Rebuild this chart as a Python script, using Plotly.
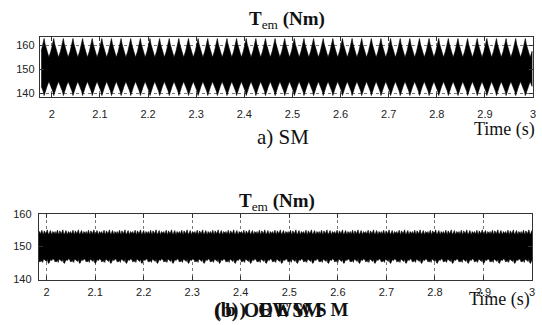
import numpy as np
import plotly.graph_objects as go

# ---------------- data ----------------
x_tickvals = [2.0, 2.1, 2.2, 2.3, 2.4, 2.5, 2.6, 2.7, 2.8, 2.9, 3.0]
x_ticktext = ["2", "2.1", "2.2", "2.3", "2.4", "2.5", "2.6", "2.7", "2.8", "2.9", "3"]
y_tickvals = [140, 150, 160]

# (a) SM: torque ripple envelope, one 50 Hz cycle (period 0.02 s)
sm_period = 0.02
sm_first_peak = 2.004
sm_cycle_phase = [0.0, 0.2, 0.4, 0.5, 0.6, 0.8, 1.0]          # fraction of period from trough to trough
sm_upper_cycle = [155.0, 157.5, 160.5, 162.8, 160.5, 157.5, 155.0]
sm_lower_cycle = [145.0, 143.0, 141.0, 139.2, 141.0, 143.0, 145.0]

# (b) OEWSM: narrow band with fuzzy edges, a short run of edge values
ow_step = 0.0016
ow_upper_run = [154.0, 154.6, 153.8, 154.3, 155.0, 154.1, 153.7, 154.8, 154.2, 153.9,
                154.5, 155.1, 154.0, 153.8, 154.4, 154.9, 154.1, 153.7, 154.6, 154.2]
ow_lower_run = [146.0, 145.4, 146.2, 145.8, 145.1, 146.0, 146.3, 145.3, 145.9, 146.1,
                145.5, 144.9, 146.0, 146.2, 145.6, 145.2, 145.9, 146.3, 145.4, 145.8]

# ---------------- build traces ----------------
top_range = [1.975, 3.0]
bot_range = [1.984, 3.0]

# tile the measured SM cycle across the visible window
t_up, v_up, v_lo = [], [], []
start = sm_first_peak - 0.5 * sm_period
k0 = int(np.floor((top_range[0] - start) / sm_period)) - 1
k1 = int(np.ceil((top_range[1] - start) / sm_period)) + 1
for k in range(k0, k1):
    for ph, u, l in zip(sm_cycle_phase, sm_upper_cycle, sm_lower_cycle):
        t = start + (k + ph) * sm_period
        t_up.append(t); v_up.append(u); v_lo.append(l)
t_up = np.array(t_up); v_up = np.array(v_up); v_lo = np.array(v_lo)
m = (t_up >= top_range[0]) & (t_up <= top_range[1])
t_up, v_up, v_lo = t_up[m], v_up[m], v_lo[m]

n_ow = int((bot_range[1] - bot_range[0]) / ow_step) + 1
t_ow = np.array([bot_range[0] + i * ow_step for i in range(n_ow)])
u_ow = np.array([ow_upper_run[i % len(ow_upper_run)] for i in range(n_ow)])
l_ow = np.array([ow_lower_run[(i * 7) % len(ow_lower_run)] for i in range(n_ow)])

fig = go.Figure()
fig.add_trace(go.Scatter(
    x=np.concatenate([t_up, t_up[::-1]]), y=np.concatenate([v_up, v_lo[::-1]]),
    fill="toself", fillcolor="#000000", line=dict(width=0.6, color="#000000"),
    mode="lines", xaxis="x", yaxis="y", hoverinfo="skip", showlegend=False))
fig.add_trace(go.Scatter(
    x=np.concatenate([t_ow, t_ow[::-1]]), y=np.concatenate([u_ow, l_ow[::-1]]),
    fill="toself", fillcolor="#000000", line=dict(width=0.6, color="#000000"),
    mode="lines", xaxis="x2", yaxis="y2", hoverinfo="skip", showlegend=False))

W, H = 542, 325
def dx(a, b): return [a / W, b / W]
def dy(top, bot): return [1 - bot / H, 1 - top / H]

tickfont = dict(family="Liberation Sans", size=11, color="#222")
axcommon = dict(showline=True, linecolor="#333", linewidth=1, mirror="ticks",
                ticks="inside", ticklen=4, tickcolor="#333", tickfont=tickfont,
                showgrid=True, gridcolor="#777", griddash="dot", gridwidth=1,
                zeroline=False)

fig.update_layout(
    width=W, height=H, autosize=False, margin=dict(l=0, r=0, t=0, b=0),
    paper_bgcolor="white", plot_bgcolor="white",
    xaxis=dict(domain=dx(40, 536), range=top_range, tickvals=x_tickvals, ticktext=x_ticktext,
               anchor="y", ticklabelstandoff=7, **axcommon),
    yaxis=dict(domain=dy(32, 94), range=[138.8, 163.5], tickvals=y_tickvals,
               anchor="x", ticklabelstandoff=2, **axcommon),
    xaxis2=dict(domain=dx(39, 535), range=bot_range, tickvals=x_tickvals, ticktext=x_ticktext,
                anchor="y2", ticklabelstandoff=2, **axcommon),
    yaxis2=dict(domain=dy(215.7, 284), range=[140, 160], tickvals=y_tickvals,
                anchor="x2", ticklabelstandoff=4, **axcommon),
)

serif = "Liberation Serif"
def ann(text, x, y, size, xanchor="center", color="#111"):
    fig.add_annotation(text=text, x=x / W, y=1 - y / H, xref="paper", yref="paper",
                       showarrow=False, xanchor=xanchor, yanchor="middle",
                       font=dict(family=serif, size=size, color=color))

title = "<b>T</b><sub>em</sub> <b>(Nm)</b>"
ann(title, 289, 15, 19)
ann(title, 279, 203, 19)
ann("Time (s)", 540, 128, 18, xanchor="right")
ann("Time (s)", 535, 305, 18, xanchor="right")
ann("a) SM", 285, 136, 21)
# the caption (b) is printed twice over itself in the reference
ann("<b>(b) OEWSM</b>", 213, 316, 20, xanchor="left")
ann("<b>(&#8201;b&#8201;)&#8201; &#8201;O&#8201;E&#8201;W&#8201;S&#8201;M</b>", 352, 316, 19,
    xanchor="right")

fig.write_html("out.html")
